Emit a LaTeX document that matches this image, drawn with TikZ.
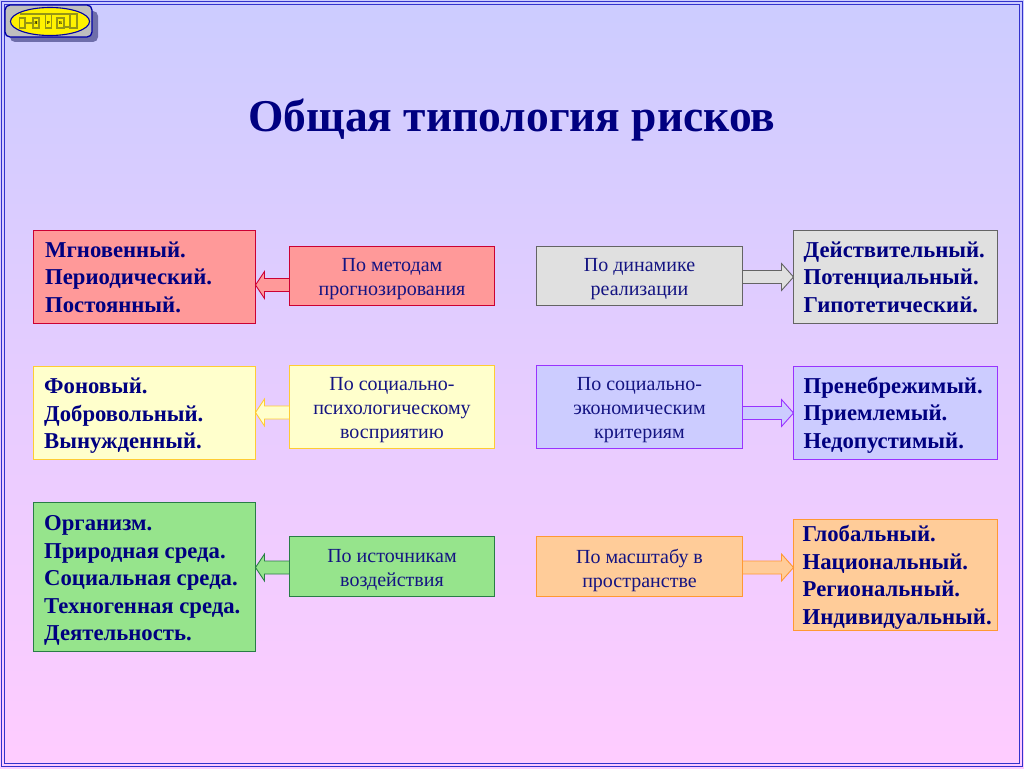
\documentclass[tikz,border=0pt]{standalone}
\usepackage{fontspec}
\setmainfont{Liberation Serif}
\usetikzlibrary{calc,shapes.geometric}
\definecolor{bgtop}{RGB}{204,204,255}
\definecolor{bgbot}{RGB}{255,204,255}
\definecolor{navy}{RGB}{0,0,128}
\definecolor{framec}{RGB}{51,51,204}
\definecolor{txt}{RGB}{20,20,130}
\definecolor{redf}{RGB}{255,153,153}\definecolor{redd}{RGB}{204,0,51}
\definecolor{grayf}{RGB}{224,224,224}\definecolor{grayd}{RGB}{100,100,100}
\definecolor{yelf}{RGB}{255,255,204}\definecolor{yeld}{RGB}{255,204,51}
\definecolor{bluf}{RGB}{204,204,255}\definecolor{blud}{RGB}{153,51,255}
\definecolor{grnf}{RGB}{150,228,140}\definecolor{grnd}{RGB}{40,125,70}
\definecolor{orgf}{RGB}{255,204,153}\definecolor{orgd}{RGB}{255,153,51}
\definecolor{logoshadow}{RGB}{110,110,170}
\definecolor{logogray}{RGB}{190,190,190}
\definecolor{logoolive}{RGB}{150,150,20}
\tikzset{
 x=1pt,y=-1pt,
 boxbase/.style={line width=0.9pt,outer sep=0pt,anchor=north west},
 listtext/.style={font=\fontsize{22.7}{27.5}\selectfont\bfseries,text=navy,align=left,inner xsep=0pt,inner ysep=0pt},
 midtext/.style={font=\fontsize{20}{24}\selectfont,text=txt,align=center,inner sep=0pt},
 barrow/.style n args={2}{draw=#2,fill=#1,line width=0.9pt,line join=miter},
 olive/.style={draw=logoolive,line width=1.4pt},
 logoletter/.style={font=\fontsize{4.5}{4.5}\selectfont\bfseries,text=black,inner sep=0pt},
}
% name, x0, y0, x1, y1, fill, draw, text, with a text offset in x and y
\newcommand\listbox[9]{\pgfmathsetlengthmacro\bw{(#4-#2)*1pt}\pgfmathsetlengthmacro\bh{(#5-#3)*1pt}%
 \node[boxbase,listtext,draw=#7,fill=#6,minimum width=\bw,minimum height=\bh] (#1) at (#2-0.5,#3-0.5) {};%
 \node[listtext,anchor=west] (#1t) at ($(#1.west)+#9$) {#8};}
\newcommand\midbox[8]{\pgfmathsetlengthmacro\bw{(#4-#2)*1pt}\pgfmathsetlengthmacro\bh{(#5-#3)*1pt}%
 \node[boxbase,midtext,draw=#7,fill=#6,minimum width=\bw,minimum height=\bh] (#1) at (#2-0.5,#3-0.5) {};%
 \node[midtext] (#1t) at ($(#1.center)+(0,3.5)$) {#8};}
% block arrows: from node, to node, vertical offset, style
\newcommand\arrowL[4]{\draw[#4] let \p1=(#1.west),\p2=(#2.east) in
 (\x1,\y1-#3pt+6.5pt) -- (\x2+9pt,\y1-#3pt+6.5pt) -- (\x2+9pt,\y1-#3pt+13.5pt) -- (\x2,\y1-#3pt)
 -- (\x2+9pt,\y1-#3pt-13.5pt) -- (\x2+9pt,\y1-#3pt-6.5pt) -- (\x1,\y1-#3pt-6.5pt) -- cycle;}
\newcommand\arrowR[4]{\draw[#4] let \p1=(#1.east),\p2=(#2.west) in
 (\x1,\y1-#3pt+6.5pt) -- (\x2-12pt,\y1-#3pt+6.5pt) -- (\x2-12pt,\y1-#3pt+13.5pt) -- (\x2,\y1-#3pt)
 -- (\x2-12pt,\y1-#3pt-13.5pt) -- (\x2-12pt,\y1-#3pt-6.5pt) -- (\x1,\y1-#3pt-6.5pt) -- cycle;}
\begin{document}
\begin{tikzpicture}
\useasboundingbox (0,0) rectangle (1024,768);
\shade[top color=bgtop,bottom color=bgbot] (0,0) rectangle (1024,768);
\draw[framec,line width=1.6pt] (1.5,1.5) rectangle (1022.5,766.5);
\draw[framec,line width=1.4pt] (4.5,4.5) rectangle (1019.5,763.5);
% logo
\fill[logoshadow,rounded corners=5pt] (10,11) rectangle (98,42);
\draw[navy!70!blue,fill=logogray,line width=1.3pt,rounded corners=5pt] (5,5) rectangle (92,37);
\node[ellipse,draw=navy!70!blue,fill=yellow,line width=1.1pt,minimum width=79pt,minimum height=28pt,inner sep=0pt] (logo) at (50,21.5) {};
\draw[olive] (19.5,18) rectangle (25,28);
\draw[olive] (33,18) rectangle (39,28);
\draw[olive] (45.5,13.5) rectangle (51.5,28);
\draw[olive] (57,18) rectangle (64,28);
\draw[olive] (70,14) rectangle (77,28);
\draw[logoolive,line width=1.4pt] (19.5,14) -- (77,14) (25,23) -- (33,23) (64,27) -- (70,27);
\node[logoletter] (l1) at (36,23.5) {Я};
\node[logoletter] (l2) at (48.5,23) {Р};
\node[logoletter] (l3) at (60.5,23.5) {Б};
% title
\node[font=\fontsize{45.5}{45.5}\selectfont\bfseries,text=navy,inner sep=0pt] (title) at (512,120) {Общая типология рисков};
% row 1
\listbox{a1}{34}{231}{256}{324}{redf}{redd}{Мгновенный.\\Периодический.\\Постоянный.}{(11.5,0)}
\midbox{b1}{290}{247}{495}{306}{redf}{redd}{По методам\\прогнозирования}
\midbox{c1}{537}{247}{743}{306}{grayf}{grayd}{По динамике\\реализации}
\listbox{d1}{794}{231}{998}{324}{grayf}{grayd}{Действительный.\\Потенциальный.\\Гипотетический.}{(10,0)}
% row 2
\listbox{a2}{34}{367}{256}{460}{yelf}{yeld}{Фоновый.\\Добровольный.\\Вынужденный.}{(10.5,3)}
\midbox{b2}{290}{366}{495}{449}{yelf}{yeld}{По социально-\\психологическому\\восприятию}
\midbox{c2}{537}{366}{743}{449}{bluf}{blud}{По социально-\\экономическим\\критериям}
\listbox{d2}{794}{367}{998}{460}{bluf}{blud}{Пренебрежимый.\\Приемлемый.\\Недопустимый.}{(10,2)}
% row 3
\listbox{a3}{34}{503}{256}{652}{grnf}{grnd}{Организм.\\Природная среда.\\Социальная среда.\\Техногенная среда.\\Деятельность.}{(10.5,3.5)}
\midbox{b3}{290}{537}{495}{597}{grnf}{grnd}{По источникам\\воздействия}
\midbox{c3}{537}{537}{743}{597}{orgf}{orgd}{По масштабу в\\пространстве}
\listbox{d3}{794}{520}{998}{631}{orgf}{orgd}{Глобальный.\\Национальный.\\Региональный.\\Индивидуальный.}{(9,2.5)}
% arrows
\arrowL{b1}{a1}{9}{barrow={redf}{redd}}
\arrowR{c1}{d1}{1}{barrow={grayf}{grayd}}
\arrowL{b2}{a2}{5.5}{barrow={yelf}{yeld}}
\arrowR{c2}{d2}{6}{barrow={bluf}{blud}}
\arrowL{b3}{a3}{1}{barrow={grnf}{grnd}}
\arrowR{c3}{d3}{1}{barrow={orgf}{orgd}}
\end{tikzpicture}
\end{document}
